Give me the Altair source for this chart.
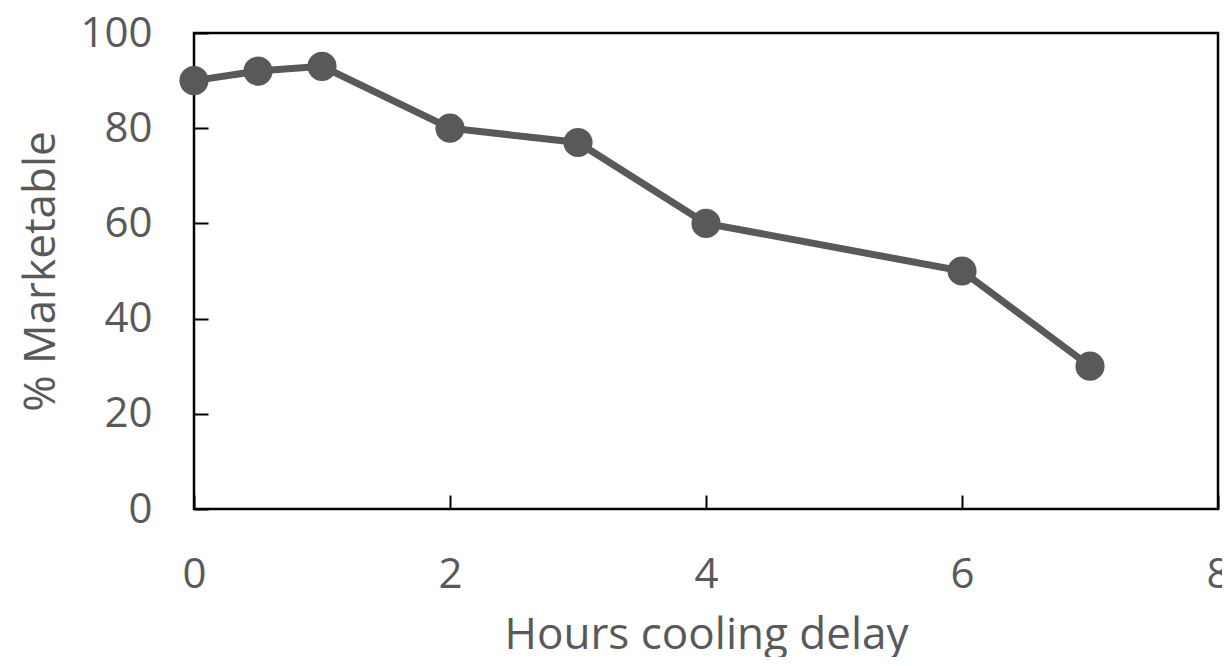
import altair as alt
import pandas as pd

hours = [0, 0.5, 1, 2, 3, 4, 6, 7]
marketable = [90, 92, 93, 80, 77, 60, 50, 30]
x_ticks = [0, 2, 4, 6, 8]
y_ticks = [0, 20, 40, 60, 80, 100]

df = pd.DataFrame({"hours": hours, "marketable": marketable})

W, H = 1024, 476
FONT = "Open Sans"
TXT = "#595959"
GRAY = "#595959"

xs = alt.Scale(domain=[0, 8], nice=False, zero=False)
ys = alt.Scale(domain=[0, 100], nice=False)

base = alt.Chart(df)

line = base.mark_line(color=GRAY, strokeWidth=7).encode(
    x=alt.X("hours:Q", scale=xs,
            axis=alt.Axis(orient="bottom", values=x_ticks, ticks=False, domain=False, grid=False,
                          labelFont=FONT, labelFontSize=42, labelColor=TXT,
                          labelPadding=45, title="Hours cooling delay",
                          titleFont=FONT, titleFontSize=44, titleColor=TXT,
                          titleFontWeight="normal", titlePadding=18,
                          labelFlush=False)),
    y=alt.Y("marketable:Q", scale=ys,
            axis=alt.Axis(orient="left", values=y_ticks, ticks=False, domain=False, grid=False,
                          labelFont=FONT, labelFontSize=42, labelColor=TXT,
                          labelPadding=42, title="% Marketable",
                          titleFont=FONT, titleFontSize=44, titleColor=TXT,
                          titleFontWeight="normal", titlePadding=16,
                          labelFlush=False)),
)

points = base.mark_point(filled=True, color=GRAY, size=850, opacity=1).encode(
    x=alt.X("hours:Q", scale=xs,
            axis=alt.Axis(orient="top", offset=-H, values=x_ticks, labels=False,
                          domain=False, grid=False, ticks=True, tickSize=14,
                          tickWidth=2, tickColor="black", title=None)),
    y=alt.Y("marketable:Q", scale=ys,
            axis=alt.Axis(orient="right", offset=-W, values=y_ticks, labels=False,
                          domain=False, grid=False, ticks=True, tickSize=14,
                          tickWidth=2, tickColor="black", title=None)),
)

chart = alt.layer(line, points).resolve_axis(
    x="independent", y="independent"
).properties(
    width=W, height=H,
    autosize=alt.AutoSizeParams(type="none"),
    padding={"left": 186, "top": 25, "right": 4, "bottom": 148},
).configure(background="white").configure_view(stroke="black", strokeWidth=2.5)

chart.save("out.html", embed_options={"renderer": "svg", "actions": False})
